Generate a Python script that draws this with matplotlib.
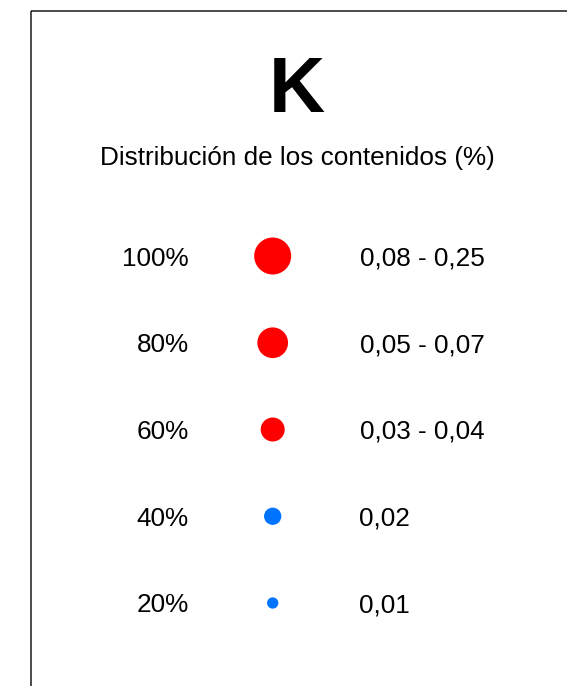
import matplotlib
matplotlib.use("Agg")
import matplotlib.pyplot as plt
from matplotlib.patches import Rectangle

plt.rcParams['font.family'] = ['Liberation Sans', 'DejaVu Sans']

title = "K"
subtitle = "Distribución de los contenidos (%)"
percent_labels = ["100%", "80%", "60%", "40%", "20%"]
range_labels = ["0,08 - 0,25", "0,05 - 0,07", "0,03 - 0,04", "0,02", "0,01"]
marker_diam_px = [37, 30.7, 24, 17.3, 11.3]
marker_colors = ["#FF0000", "#FF0000", "#FF0000", "#0073FF", "#0073FF"]

W, H = 567, 686
fig = plt.figure(figsize=(W / 100, H / 100), dpi=100)
ax = fig.add_axes([0, 0, 1, 1])
ax.set_xlim(0, W)
ax.set_ylim(H, 0)
ax.axis('off')

# frame (extends past the right and bottom edges)
ax.add_patch(Rectangle((31, 11), 600, 700, fill=False, edgecolor='#1a1a1a', linewidth=1.1))

ax.text(296.5, 111.5, title, ha='center', va='baseline', fontsize=56, fontweight='bold')
ax.text(297.5, 165, subtitle, ha='center', va='baseline', fontsize=18.8)

row0, step = 256, 86.75
x_circ, x_left, x_right = 272.7, 188.5, 359.5
for i, (pl, rl, d, c) in enumerate(zip(percent_labels, range_labels, marker_diam_px, marker_colors)):
    y = row0 + i * step
    ms = d * 72 / 100
    ax.scatter([x_circ], [y], s=ms ** 2, color=c, edgecolors='none')
    ax.text(x_left, y, pl, ha='right', va='center_baseline', fontsize=18.8)
    ax.text(x_right, y, rl, ha='left', va='center_baseline', fontsize=18.8)

fig.savefig("out.png", dpi=100)
